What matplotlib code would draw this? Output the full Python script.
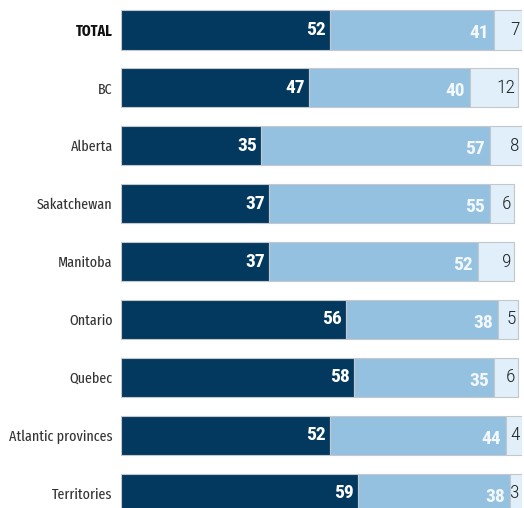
import numpy as np
import matplotlib.pyplot as plt

# ------------------------
# Data
# ------------------------
regions = ["TOTAL", "BC", "Alberta", "Sakatchewan", "Manitoba",
           "Ontario", "Quebec", "Atlantic provinces", "Territories"]
dark_vals = [52, 47, 35, 37, 37, 56, 58, 52, 59]
light_vals = [41, 40, 57, 55, 52, 38, 35, 44, 38]
pale_vals = [7, 12, 8, 6, 9, 5, 6, 4, 3]

DARK = "#03395e"
LIGHT = "#95c1e0"
PALE = "#e0eff9"
EDGE = "#c4c8cc"

plt.rcParams["font.family"] = ["Roboto Condensed", "DejaVu Sans"]
LABEL_FONT = ["Fira Sans Extra Condensed", "Roboto Condensed", "DejaVu Sans"]

fig = plt.figure(figsize=(5.24, 5.08), dpi=100)
ax = fig.add_axes([121 / 524, 0, 401 / 524, 1])

y = np.arange(len(regions))
h = 0.674

ax.barh(y, dark_vals, height=h, color=DARK, edgecolor=EDGE, linewidth=0.8)
ax.barh(y, light_vals, left=dark_vals, height=h, color=LIGHT,
        edgecolor=EDGE, linewidth=0.8)
left3 = np.array(dark_vals) + np.array(light_vals)
ax.barh(y, pale_vals, left=left3, height=h, color=PALE,
        edgecolor=EDGE, linewidth=0.8)

# value labels
for i in range(len(regions)):
    d = dark_vals[i]
    l = light_vals[i]
    p = pale_vals[i]
    ax.text(d - 1.0, i, str(d), color="white", fontsize=14,
            fontweight="bold", ha="right", va="center")
    ax.text(d + l - 1.2, i + 0.06, str(l), color="#f2f8fc", fontsize=14,
            fontweight="bold", ha="right", va="center")
    ax.text(d + l + p - 0.6, i, str(p), color="#222222", fontsize=14,
            fontweight="light", ha="right", va="center")

ax.set_xlim(0, 100)
ax.set_ylim(8.256, -0.518)
ax.set_yticks(y)
ax.set_yticklabels(regions, fontsize=11, color="#333333", fontweight="normal",
                   family=LABEL_FONT)
for lab in ax.get_yticklabels():
    if lab.get_text() == "TOTAL":
        lab.set_fontweight("bold")
        lab.set_color("#111111")
ax.tick_params(axis="y", length=0, pad=6)
ax.set_xticks([])
for s in ax.spines.values():
    s.set_visible(False)

fig.savefig("out.png", dpi=100)
